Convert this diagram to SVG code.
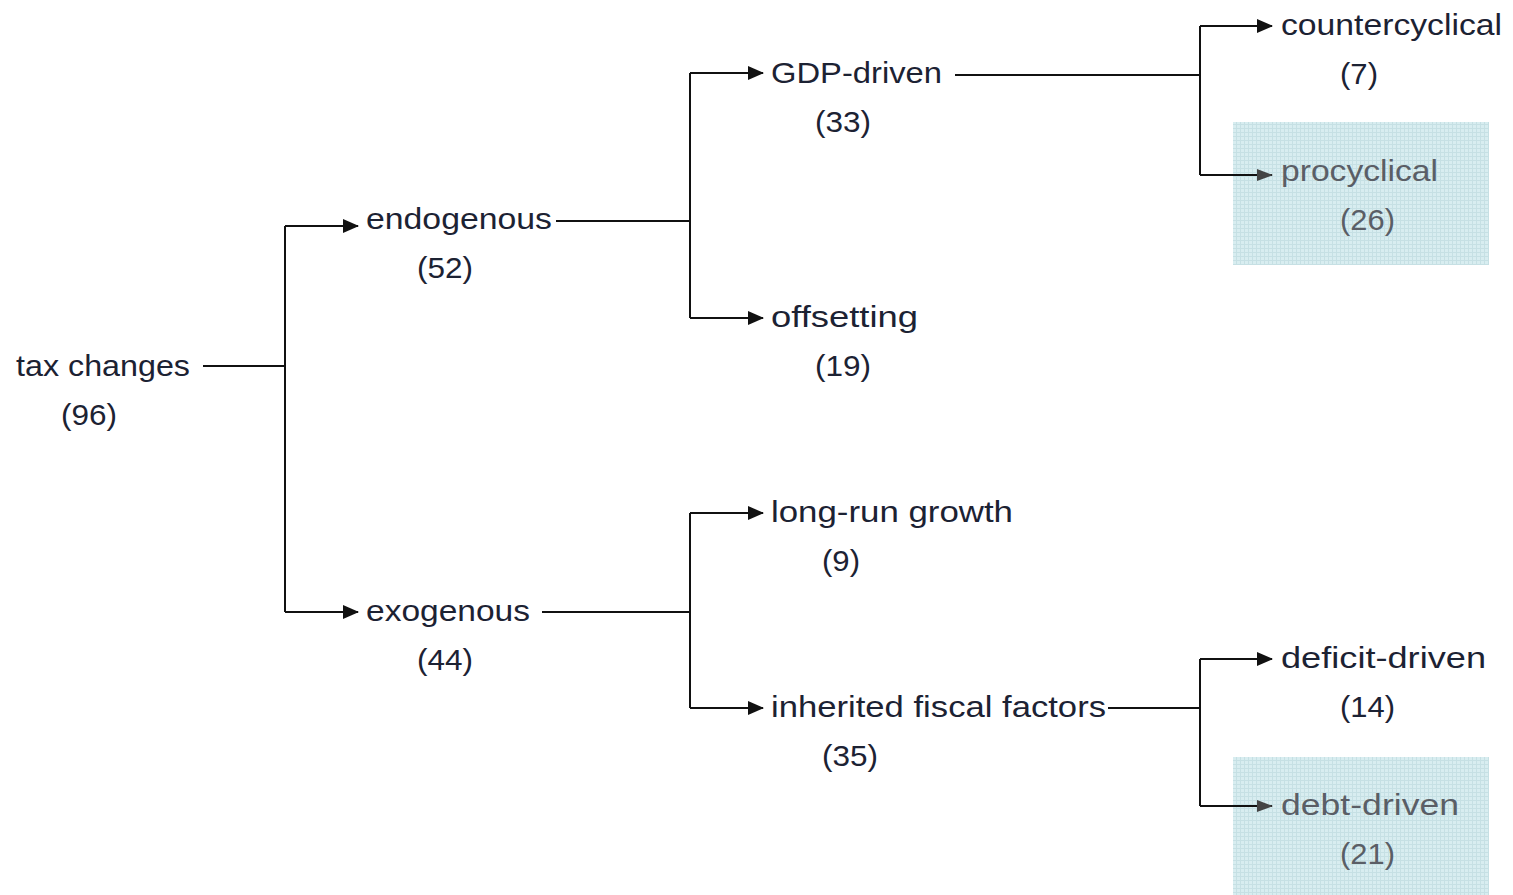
<svg xmlns="http://www.w3.org/2000/svg" width="1513" height="895" viewBox="0 0 1513 895">
<defs>
<style>
.t{font-family:"Liberation Sans",Arial,sans-serif;font-size:30px;fill:#1c2233}
.g{fill:#5a5e66}
.ln{fill:none;stroke:#111;stroke-width:2}
</style>
<pattern id="grid" width="4" height="4" patternUnits="userSpaceOnUse">
<rect width="4" height="4" fill="#d8edf0"/>
<path d="M0 0.5H4M0.5 0V4" stroke="#c6e0e4" stroke-width="1"/>
</pattern>
<marker id="ah" markerWidth="16" markerHeight="14" refX="15" refY="7" orient="auto" markerUnits="userSpaceOnUse">
<path d="M0 0L16 7L0 14Z" fill="#111"/>
</marker>
<marker id="ahg" markerWidth="16" markerHeight="14" refX="15" refY="7" orient="auto" markerUnits="userSpaceOnUse">
<path d="M0 1L16 7L0 13Z" fill="#444"/>
</marker>
</defs>
<rect width="1513" height="895" fill="#fff"/>
<rect x="1233" y="122" width="256" height="143" fill="url(#grid)"/>
<rect x="1233" y="757" width="256" height="138" fill="url(#grid)"/>
<g id="connectors">
<path class="ln" d="M203 366H285"/>
<path class="ln" d="M285 226V612"/>
<path class="ln" d="M285 226H358" marker-end="url(#ah)"/>
<path class="ln" d="M285 612H358" marker-end="url(#ah)"/>
<path class="ln" d="M556 221H690"/>
<path class="ln" d="M690 73V318"/>
<path class="ln" d="M690 73H763" marker-end="url(#ah)"/>
<path class="ln" d="M690 318H763" marker-end="url(#ah)"/>
<path class="ln" d="M955 75H1200"/>
<path class="ln" d="M1200 26V175"/>
<path class="ln" d="M1200 26H1272" marker-end="url(#ah)"/>
<path class="ln" d="M1200 175H1272" marker-end="url(#ahg)"/>
<path class="ln" d="M542 612H690"/>
<path class="ln" d="M690 513V708"/>
<path class="ln" d="M690 513H763" marker-end="url(#ah)"/>
<path class="ln" d="M690 708H763" marker-end="url(#ah)"/>
<path class="ln" d="M1108 708H1200"/>
<path class="ln" d="M1200 659V806"/>
<path class="ln" d="M1200 659H1272" marker-end="url(#ah)"/>
<path class="ln" d="M1200 806H1272" marker-end="url(#ahg)"/>
</g>
<g id="n-tax"><text class="t" x="16" y="376" textLength="174" lengthAdjust="spacingAndGlyphs">tax changes</text><text class="t" x="61" y="425" textLength="56" lengthAdjust="spacingAndGlyphs">(96)</text></g>
<g id="n-endo"><text class="t" x="366" y="229" textLength="186" lengthAdjust="spacingAndGlyphs">endogenous</text><text class="t" x="417" y="278" textLength="56" lengthAdjust="spacingAndGlyphs">(52)</text></g>
<g id="n-exo"><text class="t" x="366" y="621" textLength="164" lengthAdjust="spacingAndGlyphs">exogenous</text><text class="t" x="417" y="670" textLength="56" lengthAdjust="spacingAndGlyphs">(44)</text></g>
<g id="n-gdp"><text class="t" x="771" y="83" textLength="171" lengthAdjust="spacingAndGlyphs">GDP-driven</text><text class="t" x="815" y="132" textLength="56" lengthAdjust="spacingAndGlyphs">(33)</text></g>
<g id="n-off"><text class="t" x="771" y="327" textLength="147" lengthAdjust="spacingAndGlyphs">offsetting</text><text class="t" x="815" y="376" textLength="56" lengthAdjust="spacingAndGlyphs">(19)</text></g>
<g id="n-lrg"><text class="t" x="771" y="522" textLength="242" lengthAdjust="spacingAndGlyphs">long-run growth</text><text class="t" x="822" y="571" textLength="38" lengthAdjust="spacingAndGlyphs">(9)</text></g>
<g id="n-inh"><text class="t" x="771" y="717" textLength="335" lengthAdjust="spacingAndGlyphs">inherited fiscal factors</text><text class="t" x="822" y="766" textLength="56" lengthAdjust="spacingAndGlyphs">(35)</text></g>
<g id="n-counter"><text class="t" x="1281" y="35" textLength="221" lengthAdjust="spacingAndGlyphs">countercyclical</text><text class="t" x="1340" y="84" textLength="38" lengthAdjust="spacingAndGlyphs">(7)</text></g>
<g id="n-pro"><text class="t g" x="1281" y="181" textLength="157" lengthAdjust="spacingAndGlyphs">procyclical</text><text class="t g" x="1340" y="230" textLength="55" lengthAdjust="spacingAndGlyphs">(26)</text></g>
<g id="n-deficit"><text class="t" x="1281" y="668" textLength="205" lengthAdjust="spacingAndGlyphs">deficit-driven</text><text class="t" x="1340" y="717" textLength="55" lengthAdjust="spacingAndGlyphs">(14)</text></g>
<g id="n-debt"><text class="t g" x="1281" y="815" textLength="178" lengthAdjust="spacingAndGlyphs">debt-driven</text><text class="t g" x="1340" y="864" textLength="55" lengthAdjust="spacingAndGlyphs">(21)</text></g>
</svg>
